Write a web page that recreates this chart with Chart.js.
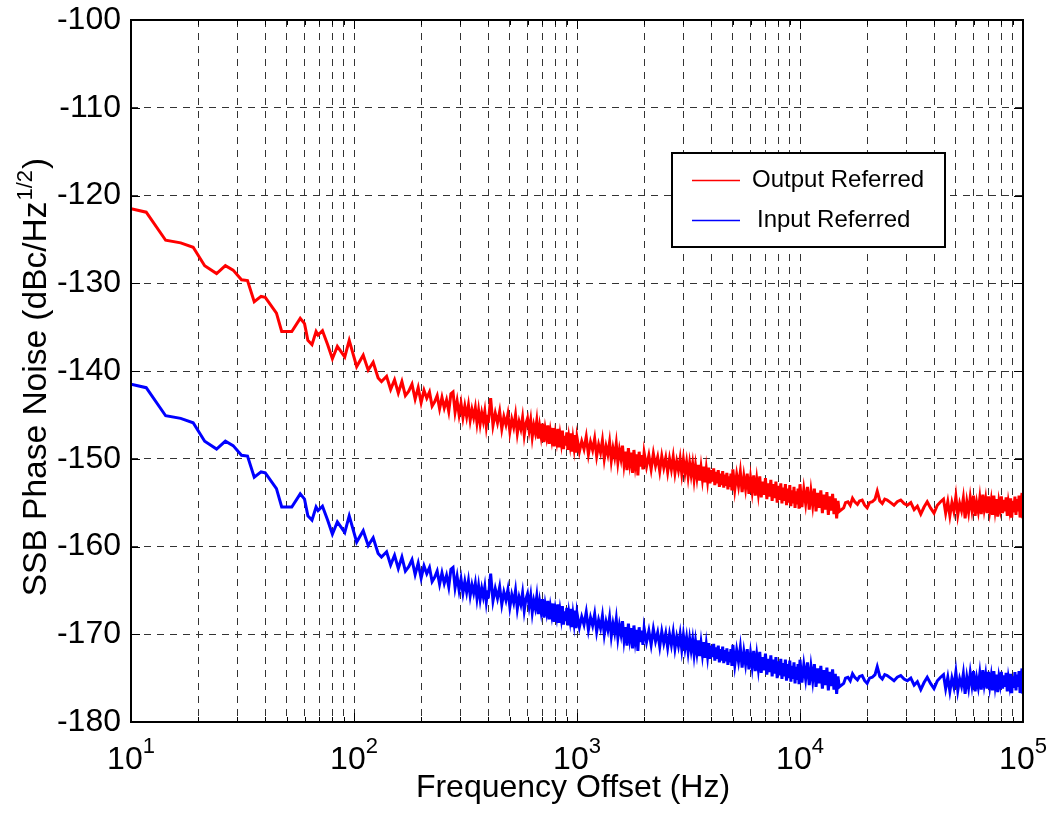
<!DOCTYPE html>
<html>
<head>
<meta charset="utf-8">
<script src="https://cdn.jsdelivr.net/npm/chart.js@4.4.0/dist/chart.umd.min.js"></script>
<style>
html,body{margin:0;padding:0;background:#ffffff;}
#wrap{width:1047px;height:813px;position:relative;}
</style>
</head>
<body>
<div id="wrap"><canvas id="c" width="1047" height="813"></canvas></div>
<script>
// ---------------- data ----------------
const freqHz = [
  10, 11.7, 14.3, 16.7, 19, 21.4, 24.2, 26.5, 28.7, 31.3, 33.3, 35.7, 38.3, 40, 44.9, 47.4, 52.6, 57.4, 60, 62.1,
  64.8, 67.6, 69, 72.2, 76.2, 80, 84.2, 90.9, 95.2, 102.8, 110, 115.8, 121.9, 128.3, 132.8,
  140, 146, 152, 158, 164, 170, 176, 182, 188, 194,
  200, 206, 212, 218, 224, 230, 236, 242, 248, 254,
  260, 266, 272, 278, 284, 290, 296, 302, 308, 314,
  320, 326, 332, 338, 344, 350, 356, 362, 368, 374,
  380, 386, 392, 398,
  400, 410, 420, 430, 440, 450, 460, 470, 480, 490,
  500, 510, 520, 530, 540, 550, 560, 570, 580, 590,
  600, 610, 620, 630, 640, 650, 660, 670, 680, 690,
  700, 710, 720, 730, 740, 750, 760, 770, 780, 790,
  800, 810, 820, 830, 840, 850, 860, 870, 880, 890,
  900, 910, 920, 930, 940, 950, 960, 970, 980, 990,
  1000, 1025, 1050, 1075, 1100, 1125, 1150, 1175, 1200, 1225,
  1250, 1275, 1300, 1325, 1350, 1375, 1400, 1425, 1450, 1475,
  1500, 1525, 1550, 1575, 1600, 1625, 1650, 1675, 1700, 1725,
  1750, 1775, 1800, 1825, 1850, 1875, 1900, 1925, 1950, 1975,
  2000, 2050, 2100, 2150, 2200, 2250, 2300, 2350, 2400, 2450,
  2500, 2550, 2600, 2650, 2700, 2750, 2800, 2850, 2900, 2950,
  3000, 3050, 3100, 3150, 3200, 3250, 3300, 3350, 3400, 3450,
  3500, 3550, 3600, 3650, 3700, 3750, 3800, 3850, 3900, 3950,
  4000, 4050, 4100, 4150, 4200, 4250, 4300, 4350, 4400, 4450,
  4500, 4550, 4600, 4650, 4700, 4750, 4800, 4850, 4900, 4950,
  5000, 5100, 5200, 5300, 5400, 5500, 5600, 5700, 5800, 5900,
  6000, 6100, 6200, 6300, 6400, 6500, 6600, 6700, 6800, 6900,
  7000, 7100, 7200, 7300, 7400, 7500, 7600, 7700, 7800, 7900,
  8000, 8100, 8200, 8300, 8400, 8500, 8600, 8700, 8800, 8900,
  9000, 9100, 9200, 9300, 9400, 9500, 9600, 9700, 9800, 9900,
  10000, 10200, 10400, 10600, 10800, 11000, 11200, 11400, 11600, 11800,
  12000, 12200, 12400, 12600, 12800, 13000, 13200, 13400, 13600, 13800,
  14000, 14200, 14400, 14600, 14800, 15000,
  15700, 16000, 16400, 16800, 17200, 17600, 18100, 18500, 19000, 19500,
  20000, 20500, 21100, 21700, 22200, 22800, 23400, 24000, 24600, 25500,
  26400, 27300, 28300, 29300, 30300, 31400, 32500, 33600, 34800, 36000,
  37200, 38500, 39900, 41300, 42700,
  44000, 45000, 46000, 47000, 48000, 49000, 50000, 51000, 52000, 53000,
  54000, 55000, 56000, 57000, 58000, 59000, 60000, 61000, 62000, 63000,
  64000, 65000, 66000, 67000, 68000, 69000, 70000, 71000, 72000, 73000,
  74000, 75000, 76000, 77000, 78000, 79000, 80000, 81000, 82000, 83000,
  84000, 85000, 86000, 87000, 88000, 89000, 90000, 91000, 92000, 93000,
  94000, 95000, 96000, 97000, 98000, 99000, 100000
];

const outputReferred = [
  -121.5, -121.9, -125.1, -125.4, -125.9, -128.0, -128.9, -128.0, -128.5, -129.6, -129.7, -132.1, -131.5, -131.6, -133.4, -135.5, -135.5, -134.0, -134.6, -136.5,
  -137.0, -135.5, -135.9, -135.4, -137.0, -138.6, -137.2, -138.4, -136.5, -139.5, -138.2, -139.9, -139.0, -140.8, -141.2,
  -140.6, -142.1, -141.0, -142.5, -141.2, -142.8, -142.3, -141.5, -143.2, -141.9,
  -143.6, -142.2, -143.1, -142.4, -144.0, -143.5, -142.8, -144.3, -143.0, -144.2,
  -143.3, -144.6, -142.6, -142.4, -144.7, -143.4, -145.0, -143.7, -145.3, -144.0,
  -145.2, -143.9, -145.6, -144.4, -145.3, -144.2, -145.9, -144.5, -146.0, -144.8,
  -145.7, -144.6, -146.3, -145.0,
  -145.9, -143.1, -146.2, -144.8, -145.9, -144.6, -146.6, -145.2, -146.1, -144.9,
  -146.9, -145.5, -146.4, -145.0, -147.1, -145.8, -146.6, -145.3, -147.3, -146.0,
  -145.4, -146.8, -145.6, -147.5, -146.2, -147.0, -145.7, -147.7, -146.3, -147.4,
  -146.0, -148.1, -146.6, -147.5, -146.2, -148.3, -146.9, -147.8, -146.5, -148.6,
  -147.2, -148.0, -146.6, -148.7, -147.3, -148.2, -146.8, -148.9, -147.4, -148.5,
  -147.0, -149.0, -147.6, -148.4, -147.1, -149.2, -147.8, -148.7, -147.3, -149.3,
  -147.6, -149.2, -148.0, -148.9, -147.5, -149.5, -148.1, -149.0, -147.7, -149.7,
  -148.4, -149.3, -147.9, -150.0, -148.6, -149.5, -148.1, -150.2, -148.8, -149.8,
  -148.3, -150.4, -149.0, -150.0, -148.5, -150.6, -149.2, -151.3, -148.8, -150.5,
  -149.3, -151.6, -149.0, -150.7, -149.5, -151.9, -149.2, -150.9, -149.6, -151.2,
  -149.3, -150.9, -149.6, -151.2, -149.4, -150.8, -149.8, -151.4, -149.7, -151.0,
  -149.9, -151.5, -150.0, -151.2, -149.8, -151.6, -150.3, -151.3, -150.0, -151.7,
  -150.1, -151.6, -150.4, -152.0, -150.5, -151.8, -150.6, -152.3, -150.8, -152.1,
  -150.7, -152.5, -151.0, -152.3, -150.9, -152.7, -151.2, -152.5, -151.0, -152.8,
  -151.3, -152.6, -151.1, -153.0, -151.5, -152.8, -151.3, -153.2, -151.7, -153.0,
  -151.4, -153.3, -151.8, -153.1, -151.6, -153.5, -152.0, -153.2, -151.7, -153.6,
  -151.2, -153.5, -151.8, -153.1, -151.5, -153.8, -152.0, -153.4, -151.7, -154.0,
  -152.2, -153.7, -151.9, -154.2, -152.4, -153.9, -152.0, -154.4, -152.6, -154.1,
  -152.2, -154.6, -152.8, -154.3, -152.4, -154.8, -152.9, -154.5, -152.6, -155.0,
  -153.1, -154.7, -152.8, -155.1, -153.3, -154.8, -152.9, -155.3, -153.4, -155.0,
  -153.0, -155.4, -153.6, -155.1, -153.2, -155.6, -153.7, -155.2, -153.4, -155.7,
  -152.9, -155.5, -153.5, -155.1, -153.2, -155.8, -153.7, -155.3, -153.4, -156.0,
  -153.9, -155.6, -153.6, -156.2, -154.1, -155.8, -153.8, -156.4, -154.3, -155.9,
  -154.0, -156.3, -154.5, -156.8, -154.8, -156.0,
  -155.6, -155.0, -154.9, -155.3, -154.5, -154.9, -155.2, -154.8, -154.7, -155.3,
  -155.6, -155.0, -154.9, -154.6, -153.7, -154.8, -155.1, -154.6, -154.7, -155.0,
  -155.3, -154.9, -154.7, -155.1, -155.3, -155.0, -155.8, -155.4, -156.3, -155.5,
  -154.9, -155.6, -156.2, -155.3, -154.9,
  -154.6, -156.2, -154.9, -156.5, -155.0, -156.0, -154.3, -156.4, -155.1, -155.9,
  -154.5, -156.8, -154.9, -156.1, -154.4, -155.8, -154.2, -156.5, -155.0, -156.0,
  -154.5, -156.3, -154.1, -155.7, -154.6, -156.2, -154.3, -155.9, -154.8, -156.4,
  -154.2, -155.8, -154.6, -156.6, -154.9, -155.7, -154.3, -156.2, -154.7, -156.0,
  -154.4, -156.5, -155.0, -155.8, -154.5, -156.7, -154.8, -156.1, -154.3, -156.4,
  -154.6, -156.0, -154.2, -156.7, -154.9, -153.9, -156.8
];

const inputReferred = [
  -141.5, -141.9, -145.1, -145.4, -145.9, -148.0, -148.9, -148.0, -148.5, -149.6, -149.7, -152.1, -151.5, -151.6, -153.4, -155.5, -155.5, -154.0, -154.6, -156.5,
  -157.0, -155.5, -155.9, -155.4, -157.0, -158.6, -157.2, -158.4, -156.5, -159.5, -158.2, -159.9, -159.0, -160.8, -161.2,
  -160.6, -162.1, -161.0, -162.5, -161.2, -162.8, -162.3, -161.5, -163.2, -161.9,
  -163.6, -162.2, -163.1, -162.4, -164.0, -163.5, -162.8, -164.3, -163.0, -164.2,
  -163.3, -164.6, -162.6, -162.4, -164.7, -163.4, -165.0, -163.7, -165.3, -164.0,
  -165.2, -163.9, -165.6, -164.4, -165.3, -164.2, -165.9, -164.5, -166.0, -164.8,
  -165.7, -164.6, -166.3, -165.0,
  -165.9, -163.1, -166.2, -164.8, -165.9, -164.6, -166.6, -165.2, -166.1, -164.9,
  -166.9, -165.5, -166.4, -165.0, -167.1, -165.8, -166.6, -165.3, -167.3, -166.0,
  -165.4, -166.8, -165.6, -167.5, -166.2, -167.0, -165.7, -167.7, -166.3, -167.4,
  -166.0, -168.1, -166.6, -167.5, -166.2, -168.3, -166.9, -167.8, -166.5, -168.6,
  -167.2, -168.0, -166.6, -168.7, -167.3, -168.2, -166.8, -168.9, -167.4, -168.5,
  -167.0, -169.0, -167.6, -168.4, -167.1, -169.2, -167.8, -168.7, -167.3, -169.3,
  -167.6, -169.2, -168.0, -168.9, -167.5, -169.5, -168.1, -169.0, -167.7, -169.7,
  -168.4, -169.3, -167.9, -170.0, -168.6, -169.5, -168.1, -170.2, -168.8, -169.8,
  -168.3, -170.4, -169.0, -170.0, -168.5, -170.6, -169.2, -171.3, -168.8, -170.5,
  -169.3, -171.6, -169.0, -170.7, -169.5, -171.9, -169.2, -170.9, -169.6, -171.2,
  -169.3, -170.9, -169.6, -171.2, -169.4, -170.8, -169.8, -171.4, -169.7, -171.0,
  -169.9, -171.5, -170.0, -171.2, -169.8, -171.6, -170.3, -171.3, -170.0, -171.7,
  -170.1, -171.6, -170.4, -172.0, -170.5, -171.8, -170.6, -172.3, -170.8, -172.1,
  -170.7, -172.5, -171.0, -172.3, -170.9, -172.7, -171.2, -172.5, -171.0, -172.8,
  -171.3, -172.6, -171.1, -173.0, -171.5, -172.8, -171.3, -173.2, -171.7, -173.0,
  -171.4, -173.3, -171.8, -173.1, -171.6, -173.5, -172.0, -173.2, -171.7, -173.6,
  -171.2, -173.5, -171.8, -173.1, -171.5, -173.8, -172.0, -173.4, -171.7, -174.0,
  -172.2, -173.7, -171.9, -174.2, -172.4, -173.9, -172.0, -174.4, -172.6, -174.1,
  -172.2, -174.6, -172.8, -174.3, -172.4, -174.8, -172.9, -174.5, -172.6, -175.0,
  -173.1, -174.7, -172.8, -175.1, -173.3, -174.8, -172.9, -175.3, -173.4, -175.0,
  -173.0, -175.4, -173.6, -175.1, -173.2, -175.6, -173.7, -175.2, -173.4, -175.7,
  -172.9, -175.5, -173.5, -175.1, -173.2, -175.8, -173.7, -175.3, -173.4, -176.0,
  -173.9, -175.6, -173.6, -176.2, -174.1, -175.8, -173.8, -176.4, -174.3, -175.9,
  -174.0, -176.3, -174.5, -176.8, -174.8, -176.0,
  -175.6, -175.0, -174.9, -175.3, -174.5, -174.9, -175.2, -174.8, -174.7, -175.3,
  -175.6, -175.0, -174.9, -174.6, -173.7, -174.8, -175.1, -174.6, -174.7, -175.0,
  -175.3, -174.9, -174.7, -175.1, -175.3, -175.0, -175.8, -175.4, -176.3, -175.5,
  -174.9, -175.6, -176.2, -175.3, -174.9,
  -174.6, -176.2, -174.9, -176.5, -175.0, -176.0, -174.3, -176.4, -175.1, -175.9,
  -174.5, -176.8, -174.9, -176.1, -174.4, -175.8, -174.2, -176.5, -175.0, -176.0,
  -174.5, -176.3, -174.1, -175.7, -174.6, -176.2, -174.3, -175.9, -174.8, -176.4,
  -174.2, -175.8, -174.6, -176.6, -174.9, -175.7, -174.3, -176.2, -174.7, -176.0,
  -174.4, -176.5, -175.0, -175.8, -174.5, -176.7, -174.8, -176.1, -174.3, -176.4,
  -174.6, -176.0, -174.2, -176.7, -174.9, -173.9, -176.8
];

const seriesNames = ['Output Referred', 'Input Referred'];
const seriesColors = ['#ff0000', '#0000ff'];
const yTicks = [-180, -170, -160, -150, -140, -130, -120, -110, -100];
const xMajorTicks = [10, 100, 1000, 10000, 100000];
const xTickExponents = ['1', '2', '3', '4', '5'];
const xTitle = 'Frequency Offset (Hz)';
const yTitleMain = 'SSB Phase Noise (dBc/Hz';
const yTitleSup = '1/2';
const yTitleEnd = ')';

// grid tick positions: 1..9 x each decade
const xGridTicks = [];
for (let d = 0; d < xMajorTicks.length - 1; d++) {
  for (let m = 1; m <= 9; m++) xGridTicks.push(xMajorTicks[d] * m);
}
xGridTicks.push(xMajorTicks[xMajorTicks.length - 1]);

// ---------------- chart ----------------
const FONT = '"Liberation Sans", Arial, Helvetica, sans-serif';
const GRID = '#333333';

const decor = {
  id: 'decor',
  afterDatasetsDraw(chart) {
    const {ctx, chartArea: a, scales: {x, y}} = chart;
    ctx.save();
    // inward ticks
    ctx.strokeStyle = '#000';
    ctx.lineWidth = 1;
    ctx.beginPath();
    xGridTicks.forEach(v => {
      const px = Math.round(x.getPixelForValue(v)) + 0.5;
      const len = xMajorTicks.includes(v) ? 9 : 5;
      ctx.moveTo(px, a.bottom); ctx.lineTo(px, a.bottom - len);
      ctx.moveTo(px, a.top); ctx.lineTo(px, a.top + len);
    });
    yTicks.forEach(v => {
      const py = Math.round(y.getPixelForValue(v)) + 0.5;
      ctx.moveTo(a.left, py); ctx.lineTo(a.left + 9, py);
      ctx.moveTo(a.right, py); ctx.lineTo(a.right - 9, py);
    });
    ctx.stroke();
    // frame
    ctx.lineWidth = 2;
    ctx.strokeRect(a.left, a.top, a.right - a.left, a.bottom - a.top);

    // x tick labels 10^n
    ctx.fillStyle = '#000';
    ctx.textBaseline = 'alphabetic';
    ctx.textAlign = 'left';
    xMajorTicks.forEach((v, i) => {
      const px = x.getPixelForValue(v);
      ctx.font = '32px ' + FONT;
      const w1 = ctx.measureText('10').width;
      ctx.font = '22px ' + FONT;
      const w2 = ctx.measureText(xTickExponents[i]).width;
      const left = px - (w1 + w2) / 2;
      ctx.font = '32px ' + FONT;
      ctx.fillText('10', left, 769);
      ctx.font = '22px ' + FONT;
      ctx.fillText(xTickExponents[i], left + w1, 753);
    });

    // x title
    ctx.font = '32px ' + FONT;
    ctx.textAlign = 'center';
    ctx.fillText(xTitle, 573, 797);

    // y title (rotated)
    ctx.save();
    ctx.translate(46, 378);
    ctx.rotate(-Math.PI / 2);
    ctx.textAlign = 'left';
    ctx.font = '33.5px ' + FONT;
    const m1 = ctx.measureText(yTitleMain).width;
    const m3 = ctx.measureText(yTitleEnd).width;
    ctx.font = '22px ' + FONT;
    const m2 = ctx.measureText(yTitleSup).width;
    const start = -(m1 + m2 + m3) / 2;
    ctx.font = '33.5px ' + FONT;
    ctx.fillText(yTitleMain, start, 0);
    ctx.font = '22px ' + FONT;
    ctx.fillText(yTitleSup, start + m1 + 1, -14);
    ctx.font = '33.5px ' + FONT;
    ctx.fillText(yTitleEnd, start + m1 + m2 + 2, 0);
    ctx.restore();

    // legend
    const lx = 672, ly = 153, lw = 273, lh = 94;
    ctx.fillStyle = '#fff';
    ctx.fillRect(lx, ly, lw, lh);
    ctx.strokeStyle = '#000';
    ctx.lineWidth = 2;
    ctx.strokeRect(lx, ly, lw, lh);
    const rows = [{y: 180.5, tx: 752, ty: 187}, {y: 220.5, tx: 757, ty: 227}];
    rows.forEach((r, i) => {
      ctx.strokeStyle = seriesColors[i];
      ctx.lineWidth = 1.5;
      ctx.beginPath();
      ctx.moveTo(692, r.y); ctx.lineTo(740, r.y);
      ctx.stroke();
      ctx.fillStyle = '#000';
      ctx.font = '24px ' + FONT;
      ctx.textAlign = 'left';
      ctx.fillText(seriesNames[i], r.tx, r.ty);
    });
    ctx.restore();
  }
};

new Chart(document.getElementById('c').getContext('2d'), {
  type: 'line',
  data: {
    datasets: [
      {
        label: seriesNames[0],
        data: freqHz.map((f, i) => ({x: f, y: outputReferred[i]})),
        borderColor: seriesColors[0], backgroundColor: seriesColors[0],
        borderWidth: 3, pointRadius: 0, tension: 0, fill: false
      },
      {
        label: seriesNames[1],
        data: freqHz.map((f, i) => ({x: f, y: inputReferred[i]})),
        borderColor: seriesColors[1], backgroundColor: seriesColors[1],
        borderWidth: 3, pointRadius: 0, tension: 0, fill: false
      }
    ]
  },
  options: {
    responsive: false,
    animation: false,
    devicePixelRatio: 1,
    layout: {padding: {top: 20, right: 24, left: 0, bottom: 0}},
    plugins: {legend: {display: false}, tooltip: {enabled: false}},
    scales: {
      x: {
        type: 'logarithmic', min: 10, max: 100000,
        afterBuildTicks: s => { s.ticks = xGridTicks.map(v => ({value: v})); },
        afterFit: s => { s.height = 91; s.paddingLeft = 0; s.paddingRight = 0; },
        ticks: {display: false},
        grid: {color: GRID, lineWidth: 1, drawTicks: false},
        border: {display: false, dash: [7, 6]}
      },
      y: {
        type: 'linear', min: -180, max: -100,
        afterBuildTicks: s => { s.ticks = yTicks.map(v => ({value: v})); },
        afterFit: s => { s.width = 131; s.paddingTop = 0; s.paddingBottom = 0; },
        ticks: {font: {family: FONT, size: 32}, color: '#000', padding: 10},
        grid: {color: GRID, lineWidth: 1, drawTicks: false},
        border: {display: false, dash: [7, 6]}
      }
    }
  },
  plugins: [decor]
});
</script>
</body>
</html>
